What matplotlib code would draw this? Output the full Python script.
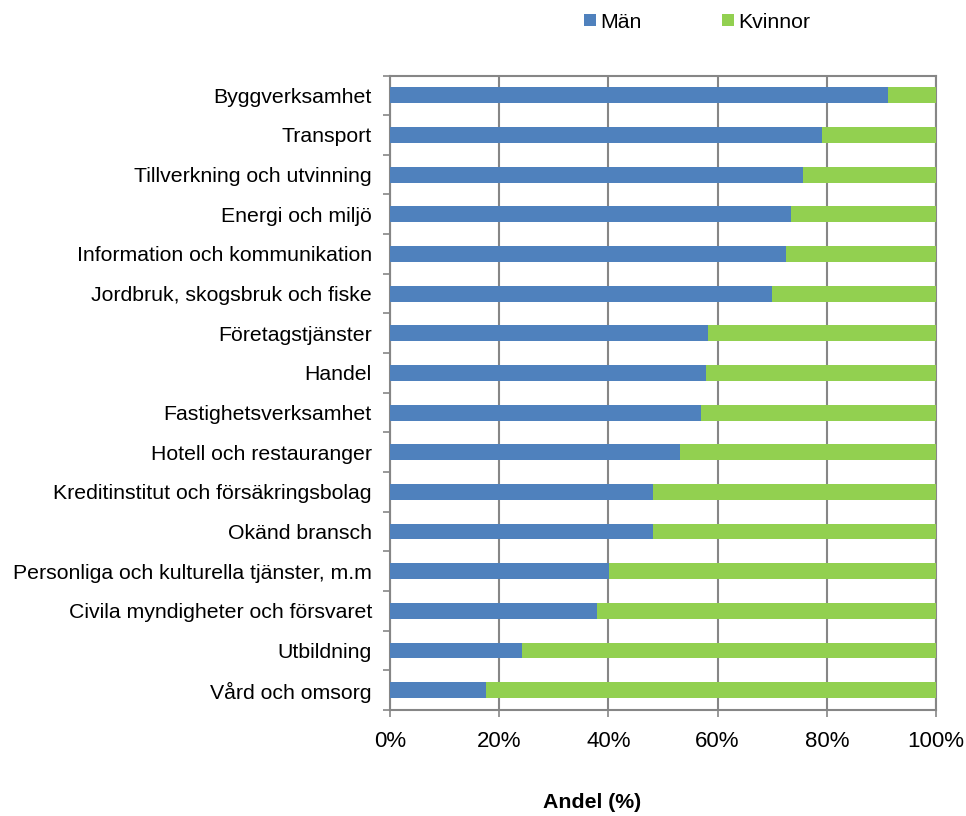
import matplotlib
matplotlib.use("Agg")
import matplotlib.pyplot as plt
import numpy as np
from matplotlib.ticker import PercentFormatter, FixedLocator

plt.rcParams['font.family'] = ['Liberation Sans', 'DejaVu Sans']

categories = ["Byggverksamhet", "Transport", "Tillverkning och utvinning", "Energi och miljö",
              "Information och kommunikation", "Jordbruk, skogsbruk och fiske", "Företagstjänster",
              "Handel", "Fastighetsverksamhet", "Hotell och restauranger",
              "Kreditinstitut och försäkringsbolag", "Okänd bransch",
              "Personliga och kulturella tjänster, m.m", "Civila myndigheter och försvaret",
              "Utbildning", "Vård och omsorg"]
man = [91.2, 79.2, 75.7, 73.5, 72.6, 70.0, 58.2, 57.9, 57.0, 53.2, 48.2, 48.1, 40.1, 37.9, 24.1, 17.5]
kvinnor = [100 - m for m in man]
xticks = [0, 20, 40, 60, 80, 100]

blue = "#4F81BD"
green = "#92D050"
gray = "#868686"

fig = plt.figure(figsize=(9.66, 8.16), dpi=100)
ax = fig.add_axes([390/966, 1-710/816, (936-390)/966, (710-75.5)/816])

y = np.arange(len(categories))
ax.barh(y, man, height=0.4, color=blue, label="Män", zorder=3)
ax.barh(y, kvinnor, left=man, height=0.4, color=green, label="Kvinnor", zorder=3)

ax.set_xlim(0, 100)
ax.set_ylim(len(categories) - 0.5, -0.5)
ax.set_yticks(y)
ax.set_yticklabels(categories, fontsize=15.3)
ax.yaxis.set_minor_locator(FixedLocator(np.arange(-0.5, len(categories), 1)))
ax.tick_params(axis='y', which='major', length=0, pad=13)
ax.tick_params(axis='y', which='minor', length=5, width=1.2, color=gray)
ax.set_xticks(xticks)
ax.xaxis.set_major_formatter(PercentFormatter(decimals=0))
ax.tick_params(axis='x', length=5, width=1.2, color=gray, labelsize=16, pad=10)
ax.grid(axis='x', color=gray, linewidth=1.5, zorder=0)
for s in ax.spines.values():
    s.set_color(gray)
    s.set_linewidth(1.5)

fig.text(592/966, 1-803/816, "Andel (%)", ha='center', va='center', fontsize=15.3, fontweight='bold')
fig.legend(loc='center', bbox_to_anchor=(697/966, 1-22/816), ncol=2, frameon=False,
           fontsize=15.3, handlelength=0.55, handleheight=0.55, handletextpad=0.2, columnspacing=3.8)

fig.savefig("out.png", dpi=100)
